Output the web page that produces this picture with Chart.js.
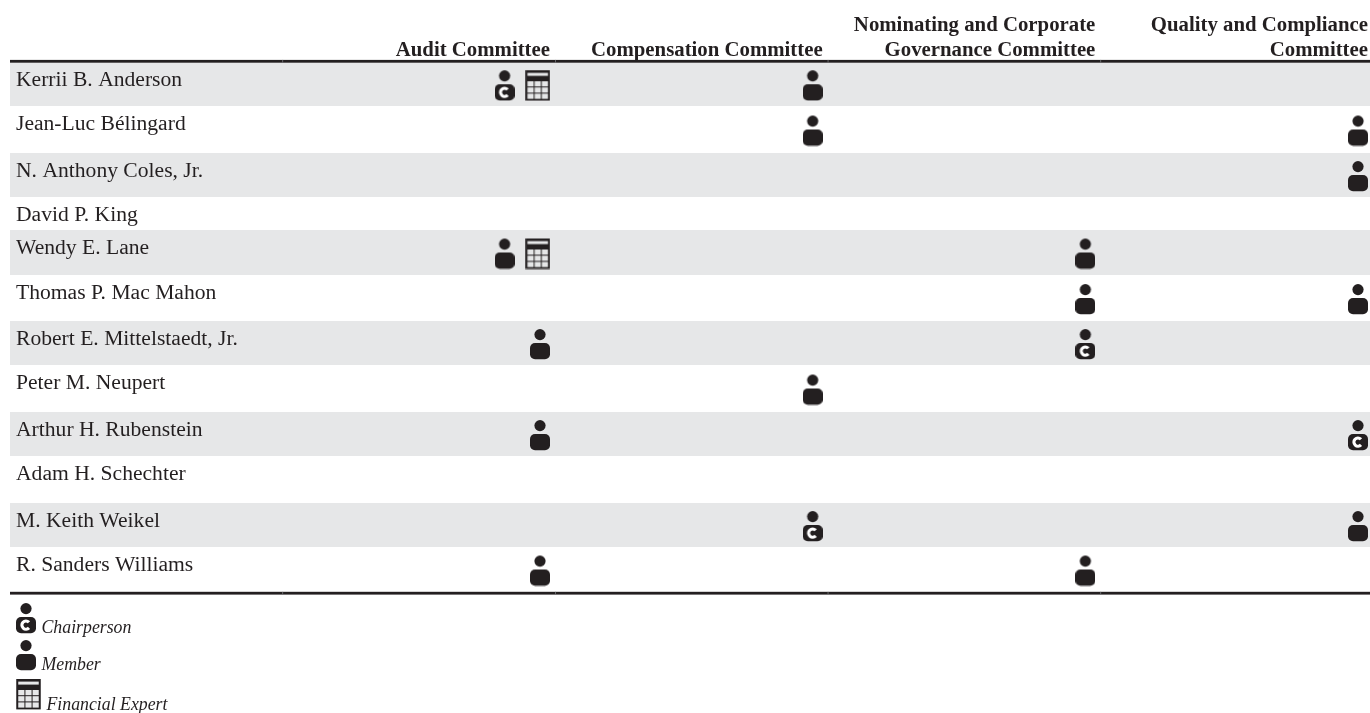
<!DOCTYPE html>
<html><head><meta charset="utf-8">
<style>html,body{margin:0;padding:0;background:#fff}canvas{display:block}</style>
<script src="https://cdn.jsdelivr.net/npm/chart.js@4/dist/chart.umd.min.js"></script>
</head><body><canvas id="c" width="1370" height="713"></canvas>
<script>
const directors = ["Kerrii B. Anderson","Jean-Luc Bélingard","N. Anthony Coles, Jr.","David P. King","Wendy E. Lane","Thomas P. Mac Mahon","Robert E. Mittelstaedt, Jr.","Peter M. Neupert","Arthur H. Rubenstein","Adam H. Schechter","M. Keith Weikel","R. Sanders Williams"];
const committees = [["Audit Committee"],["Compensation Committee"],["Nominating and Corporate","Governance Committee"],["Quality and Compliance","Committee"]];
// row indices (into directors) per committee
const auditChair = [0];
const auditMembers = [4,6,8,11];
const auditExperts = [0,4];
const compensationChair = [10];
const compensationMembers = [0,1,7];
const nominatingChair = [6];
const nominatingMembers = [4,5,11];
const qualityChair = [8];
const qualityMembers = [1,2,5,10];
const legendLabels = ["Chairperson","Member","Financial Expert"];

// ---- layout ----
const INK = '#231f20', BAND = '#e6e7e8';
const rowEdges = [62.5,106,153,197,230,275,321,365,412,456,503,547,592];
const SERIF = '"Liberation Serif", serif';
const EXPERT_SHIFT = -0.1297, EXPERT_ICON = -0.0084, HEADER_SHIFT = 0.0367, JOINT_SHIFT = 0.055, LABEL_DROP = 18.3;

function icon(w,h,draw){const c=document.createElement('canvas');c.width=w;c.height=h;draw(c.getContext('2d'));return c;}
function person(ctx,ox,oy,w){
  ctx.fillStyle=INK;
  ctx.beginPath();ctx.arc(ox+w/2,oy+5.6,5.6,0,Math.PI*2);ctx.fill();
  ctx.beginPath();ctx.roundRect(ox,oy+14,w,16.2,5);ctx.fill();
}
function chairMark(ctx,ox,oy,w){
  person(ctx,ox,oy,w);
  ctx.strokeStyle='#fff';ctx.lineWidth=3.1;
  ctx.beginPath();ctx.arc(ox+w/2,oy+22.1,4.1,0.75,Math.PI*2-0.75);ctx.stroke();
}
function calc(ctx,ox,oy,w,h){
  ctx.fillStyle=INK;ctx.fillRect(ox,oy,w,h);
  ctx.fillStyle=BAND;
  ctx.fillRect(ox+2,oy+2.6,w-4,3);
  const gx=ox+2,gy=oy+11,gw=w-4,gh=h-12.8,t=1,cw=(gw-2*t)/3,ch=(gh-2*t)/3;
  for(let r=0;r<3;r++)for(let k=0;k<3;k++)ctx.fillRect(gx+k*(cw+t),gy+r*(ch+t),cw,ch);
}
// icons carry 3px of blank on top: the glyph sits slightly low in its row
const memberIcon = icon(20,34,x=>person(x,0,3,20));
const chairIcon  = icon(20,34,x=>chairMark(x,0,3,20));
const expertIcon = icon(25,34,x=>calc(x,0.25,3,24.5,30.4));

class RowScale extends Chart.LinearScale{
  static id='rows';
  static defaults=Chart.LinearScale.defaults;
  getPixelForValue(v){
    const i=Math.max(0,Math.min(rowEdges.length-2,Math.round(v)));
    const a=rowEdges[i],b=rowEdges[i+1];
    return (a+b)/2+(v-i)*(b-a);
  }
}
Chart.register(RowScale);

const pts=(rows,col,shift=0)=>rows.map(r=>({x:col+shift,y:r}));
const hasExpert=r=>auditExperts.includes(r);
const ds=(label,data,img)=>({label,data,pointStyle:img,pointRadius:10,showLine:false,clip:false});

const tablePlugin={
  id:'table',
  beforeDraw(chart){
    const {ctx,scales:{x,y}}=chart;
    ctx.save();
    ctx.fillStyle=BAND;
    directors.forEach((_,i)=>{
      if(i%2) return;
      const top=y.getPixelForValue(i-0.5),bot=y.getPixelForValue(i+0.5);
      ctx.fillRect(x.left,top,x.right-x.left,bot-top);
    });
    const t=y.getPixelForValue(-0.5),b=y.getPixelForValue(directors.length-1+0.5);
    ctx.fillStyle=INK;
    ctx.fillRect(x.left,t-2.6,x.right-x.left,2.8);
    ctx.fillRect(x.left,b-0.2,x.right-x.left,2.8);
    ctx.fillStyle='#77787b';
    [-1,0,1,2].forEach(c=>{
      const px=x.getPixelForValue(c+JOINT_SHIFT);
      ctx.fillRect(px,t-2.6,0.8,2.8);
      ctx.fillRect(px,b-0.2,0.8,2.8);
    });
    ctx.restore();
  },
  afterDraw(chart){
    const {ctx}=chart;
    const rows=[[chairIcon,16,600,41.5,633],[memberIcon,16,637,41.5,670],[expertIcon,16,676,46.5,710]];
    ctx.save();
    ctx.fillStyle=INK;ctx.font='italic 17.8px '+SERIF;ctx.textBaseline='alphabetic';ctx.textAlign='left';
    rows.forEach((r,i)=>{ctx.drawImage(r[0],r[1],r[2]);ctx.fillText(legendLabels[i],r[3],r[4]);});
    ctx.restore();
  }
};

new Chart(document.getElementById('c'),{
  type:'scatter',
  data:{datasets:[
    ds('Chairperson',[...pts(auditChair,0,EXPERT_SHIFT),...pts(compensationChair,1),...pts(nominatingChair,2),...pts(qualityChair,3)],chairIcon),
    ds('Member',[...auditMembers.map(r=>({x:hasExpert(r)?EXPERT_SHIFT:0,y:r})),...pts(compensationMembers,1),...pts(nominatingMembers,2),...pts(qualityMembers,3)],memberIcon),
    ds('Financial Expert',pts(auditExperts,0,EXPERT_ICON),expertIcon)
  ]},
  options:{
    responsive:false,animation:false,devicePixelRatio:1,events:[],
    layout:{autoPadding:false,padding:{left:10,right:0,top:0,bottom:119}},
    plugins:{legend:{display:false},tooltip:{enabled:false},title:{display:false}},
    scales:{
      x:{type:'linear',position:'top',min:-1.9437,max:3.044,
        grid:{display:false,drawTicks:false},border:{display:false},
        afterBuildTicks(s){s.ticks=committees.map((_,i)=>({value:i+HEADER_SHIFT}));},
        afterFit(s){s.height=60;},
        ticks:{align:'end',maxRotation:0,autoSkip:false,padding:-3.5,color:INK,
          font:{family:SERIF,size:20.8,weight:'bold',lineHeight:1.22},
          callback:(v,i)=>committees[i]}
      },
      y:{type:'rows',position:'left',min:-0.5,max:11.5,
        grid:{display:false,drawTicks:false},border:{display:false},
        afterBuildTicks(s){s.ticks=directors.map((_,i)=>({value:i-0.5+LABEL_DROP/(rowEdges[i+1]-rowEdges[i])}));},
        afterFit(s){s.width=0;},
        ticks:{mirror:true,padding:6,autoSkip:false,color:INK,
          font:{family:SERIF,size:21.6},
          callback:(v,i)=>directors[i]}
      }
    }
  },
  plugins:[tablePlugin]
});
</script></body></html>
